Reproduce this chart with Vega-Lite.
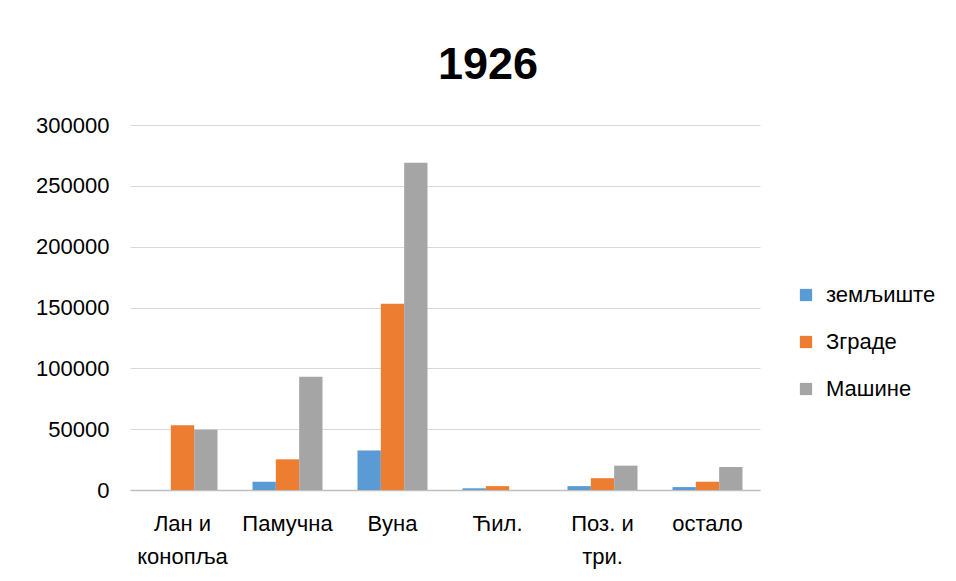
{
  "$schema": "https://vega.github.io/schema/vega-lite/v6.json",
  "autosize": {"type": "none"},
  "width": 630,
  "height": 365,
  "padding": {"left": 130, "top": 125, "right": 196, "bottom": 91},
  "background": "white",
  "title": {
    "text": "1926",
    "font": "Liberation Sans",
    "fontSize": 45,
    "fontWeight": "bold",
    "color": "#000000",
    "anchor": "middle",
    "dx": 43,
    "offset": 26
  },
  "data": {
    "values": [
      {"cat": "Лан и конопља", "series": "земљиште", "value": 0},
      {"cat": "Лан и конопља", "series": "Зграде", "value": 53300},
      {"cat": "Лан и конопља", "series": "Машине", "value": 49500},
      {"cat": "Памучна", "series": "земљиште", "value": 6800},
      {"cat": "Памучна", "series": "Зграде", "value": 25200},
      {"cat": "Памучна", "series": "Машине", "value": 93000},
      {"cat": "Вуна", "series": "земљиште", "value": 32500},
      {"cat": "Вуна", "series": "Зграде", "value": 153000},
      {"cat": "Вуна", "series": "Машине", "value": 269000},
      {"cat": "Ћил.", "series": "земљиште", "value": 1400},
      {"cat": "Ћил.", "series": "Зграде", "value": 3200},
      {"cat": "Ћил.", "series": "Машине", "value": 0},
      {"cat": "Поз. и три.", "series": "земљиште", "value": 3200},
      {"cat": "Поз. и три.", "series": "Зграде", "value": 9700},
      {"cat": "Поз. и три.", "series": "Машине", "value": 20000},
      {"cat": "остало", "series": "земљиште", "value": 2400},
      {"cat": "остало", "series": "Зграде", "value": 6800},
      {"cat": "остало", "series": "Машине", "value": 18900}
    ]
  },
  "mark": {"type": "bar"},
  "encoding": {
    "x": {
      "field": "cat",
      "type": "nominal",
      "sort": null,
      "scale": {"paddingInner": 0.3333, "paddingOuter": 0.1667},
      "axis": {
        "title": null,
        "labelAngle": 0,
        "labelFont": "Liberation Sans",
        "labelFontSize": 22,
        "labelColor": "#000000",
        "labelPadding": 23,
        "labelLineHeight": 33,
        "labelBaseline": "top",
        "ticks": false,
        "domainColor": "#bfbfbf",
        "domainWidth": 1.5,
        "labelExpr": "datum.value == 'Лан и конопља' ? ['Лан и', 'конопља'] : datum.value == 'Поз. и три.' ? ['Поз. и', 'три.'] : datum.value"
      }
    },
    "xOffset": {
      "field": "series",
      "type": "nominal",
      "sort": ["земљиште", "Зграде", "Машине"]
    },
    "y": {
      "field": "value",
      "type": "quantitative",
      "scale": {"domain": [0, 300000], "nice": false},
      "axis": {
        "title": null,
        "values": [0, 50000, 100000, 150000, 200000, 250000, 300000],
        "format": "d",
        "labelFont": "Liberation Sans",
        "labelFontSize": 22,
        "labelColor": "#000000",
        "labelPadding": 21,
        "ticks": false,
        "domain": false,
        "gridColor": "#d9d9d9",
        "gridWidth": 1.2
      }
    },
    "color": {
      "field": "series",
      "type": "nominal",
      "sort": ["земљиште", "Зграде", "Машине"],
      "scale": {
        "domain": ["земљиште", "Зграде", "Машине"],
        "range": ["#5b9bd5", "#ed7d31", "#a5a5a5"]
      },
      "legend": {
        "title": null,
        "orient": "none",
        "legendX": 665,
        "legendY": 159,
        "symbolType": "square",
        "symbolSize": 150,
        "symbolStrokeWidth": 0,
        "labelFont": "Liberation Sans",
        "labelFontSize": 22,
        "labelColor": "#000000",
        "labelOffset": 9,
        "rowPadding": 25
      }
    }
  },
  "config": {
    "view": {"stroke": null}
  }
}
